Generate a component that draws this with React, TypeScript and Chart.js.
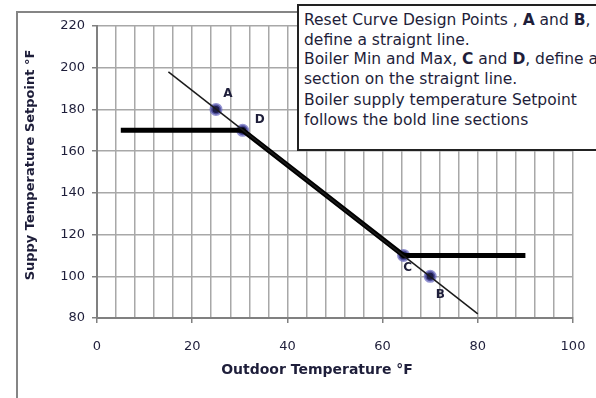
import React, { useEffect, useRef } from "react";
import { Chart, registerables } from "chart.js";

Chart.register(...registerables);

// Outdoor temperature axis (°F) and supply setpoint axis (°F)
const xMin = 0;
const xMax = 100;
const xStep = 4;
const xLabelEvery = 20;
const yMin = 80;
const yMax = 220;
const yStep = 20;

// Thin reset line through design points A and B (end points)
const resetLineX = [15, 80];
const resetLineY = [198, 82];

// Bold sections: min/max clamp + slope section between D and C
const boldX = [5, 30.6, 64.4, 90];
const boldY = [170, 170, 110, 110];

// Labelled design points
const pointNames = ["A", "D", "C", "B"];
const pointX = [25, 30.6, 64.4, 70];
const pointY = [180, 170, 110, 100];

const xTitle = "Outdoor Temperature °F";
const yTitle = "Suppy Temperature Setpoint °F";

const FONT = "'DejaVu Sans', Verdana, sans-serif";
const TEXT = "#1e1e3a";

const labelOffsets: Record<string, [number, number]> = {
  A: [12, -16],
  D: [17, -10],
  C: [4, 12],
  B: [10, 19],
};

const framePlugin = {
  id: "frame",
  beforeDraw(chart: any) {
    const ctx = chart.ctx;
    ctx.save();
    ctx.fillStyle = "#fff";
    ctx.fillRect(0, 0, chart.width, chart.height);
    ctx.strokeStyle = "#858585";
    ctx.lineWidth = 2;
    ctx.beginPath();
    ctx.moveTo(17, chart.height);
    ctx.lineTo(17, 12);
    ctx.lineTo(300, 12);
    ctx.stroke();
    ctx.restore();
  },
};

const axisTitlePlugin = {
  id: "axisTitles",
  afterDraw(chart: any) {
    const ctx = chart.ctx;
    ctx.save();
    ctx.fillStyle = TEXT;
    ctx.textAlign = "center";
    ctx.textBaseline = "middle";
    ctx.font = `bold 14px ${FONT}`;
    ctx.fillText(xTitle, 317, 370);
    ctx.translate(31, 165);
    ctx.rotate(-Math.PI / 2);
    ctx.font = `bold 13px ${FONT}`;
    ctx.fillText(yTitle, 0, 0);
    ctx.restore();
  },
};

const pointLabelPlugin = {
  id: "pointLabels",
  afterDatasetsDraw(chart: any) {
    const ctx = chart.ctx;
    const xs = chart.scales.x;
    const ys = chart.scales.y;
    ctx.save();
    ctx.font = `bold 12px ${FONT}`;
    ctx.fillStyle = TEXT;
    ctx.textAlign = "center";
    ctx.textBaseline = "middle";
    pointNames.forEach((n, i) => {
      const off = labelOffsets[n] || [0, 0];
      ctx.fillText(
        n,
        xs.getPixelForValue(pointX[i]) + off[0],
        ys.getPixelForValue(pointY[i]) + off[1]
      );
    });
    ctx.restore();
  },
};

export default function App() {
  const ref = useRef<HTMLCanvasElement | null>(null);

  useEffect(() => {
    if (!ref.current) return;
    const chart = new Chart(ref.current, {
      type: "scatter",
      data: {
        datasets: [
          {
            label: "Reset line",
            data: resetLineX.map((x, i) => ({ x, y: resetLineY[i] })),
            showLine: true,
            borderColor: "#1a1a1a",
            borderWidth: 1.5,
            pointRadius: 0,
          },
          {
            label: "Setpoint",
            data: boldX.map((x, i) => ({ x, y: boldY[i] })),
            showLine: true,
            borderColor: "#000",
            borderWidth: 5,
            pointRadius: 0,
          },
          {
            label: "Design points",
            data: pointX.map((x, i) => ({ x, y: pointY[i] })),
            showLine: false,
            pointRadius: 5,
            pointBackgroundColor: "#1c1c48",
            pointBorderColor: "rgba(100,100,190,0.7)",
            pointBorderWidth: 3,
          },
        ],
      },
      options: {
        responsive: false,
        animation: false,
        layout: { padding: { left: 0, right: 23, top: 26, bottom: 0 } },
        plugins: {
          legend: { display: false },
          tooltip: { enabled: false },
        },
        scales: {
          x: {
            type: "linear",
            min: xMin,
            max: xMax,
            afterFit: (s: any) => {
              s.height = 80;
              s.paddingLeft = 0;
              s.paddingRight = 0;
            },
            ticks: {
              stepSize: xStep,
              autoSkip: false,
              maxRotation: 0,
              padding: 16,
              color: TEXT,
              font: { family: FONT, size: 13 },
              callback: (v: any) => (Number(v) % xLabelEvery === 0 ? String(v) : ""),
            },
            grid: {
              color: "#a8a8a8",
              lineWidth: 1.5,
              tickLength: 5,
              tickColor: (c: any) =>
                c.tick && Number(c.tick.value) % xLabelEvery === 0 ? "#808080" : "rgba(0,0,0,0)",
            },
            border: { color: "#808080", width: 2 },
            title: { display: false, text: xTitle },
          },
          y: {
            type: "linear",
            min: yMin,
            max: yMax,
            afterFit: (s: any) => {
              s.width = 97;
              s.paddingTop = 0;
              s.paddingBottom = 0;
            },
            ticks: {
              stepSize: yStep,
              padding: 7,
              color: TEXT,
              font: { family: FONT, size: 13 },
            },
            grid: {
              color: "#a8a8a8",
              lineWidth: 1.5,
              tickLength: 5,
              tickColor: "#808080",
            },
            border: { color: "#808080", width: 2 },
            title: { display: false, text: yTitle },
          },
        },
      },
      plugins: [framePlugin, pointLabelPlugin, axisTitlePlugin],
    } as any);
    return () => chart.destroy();
  }, []);

  const lineStyle: React.CSSProperties = { margin: 0, whiteSpace: "nowrap" };

  return (
    <div
      style={{
        position: "fixed",
        left: 0,
        top: 0,
        width: 596,
        height: 398,
        overflow: "hidden",
        background: "#fff",
      }}
    >
      <canvas ref={ref} width={596} height={398} style={{ display: "block" }} />
      <div
        style={{
          position: "absolute",
          left: 297,
          top: 4,
          width: 330,
          height: 138,
          border: "2px solid #222",
          background: "#fff",
          boxSizing: "content-box",
          fontFamily: FONT,
          fontSize: 15.5,
          lineHeight: "19.5px",
          color: TEXT,
          padding: "5px 0 0 5px",
        }}
      >
        <p style={lineStyle}>
          Reset Curve Design Points , <b>A</b> and <b>B</b>,
        </p>
        <p style={lineStyle}>define a straignt line.</p>
        <p style={lineStyle}>
          Boiler Min and Max, <b>C</b> and <b>D</b>, define a
        </p>
        <p style={lineStyle}>section on the straignt line.</p>
        <p style={{ ...lineStyle, marginTop: 2 }}>Boiler supply temperature Setpoint</p>
        <p style={lineStyle}>follows the bold line sections</p>
      </div>
    </div>
  );
}
